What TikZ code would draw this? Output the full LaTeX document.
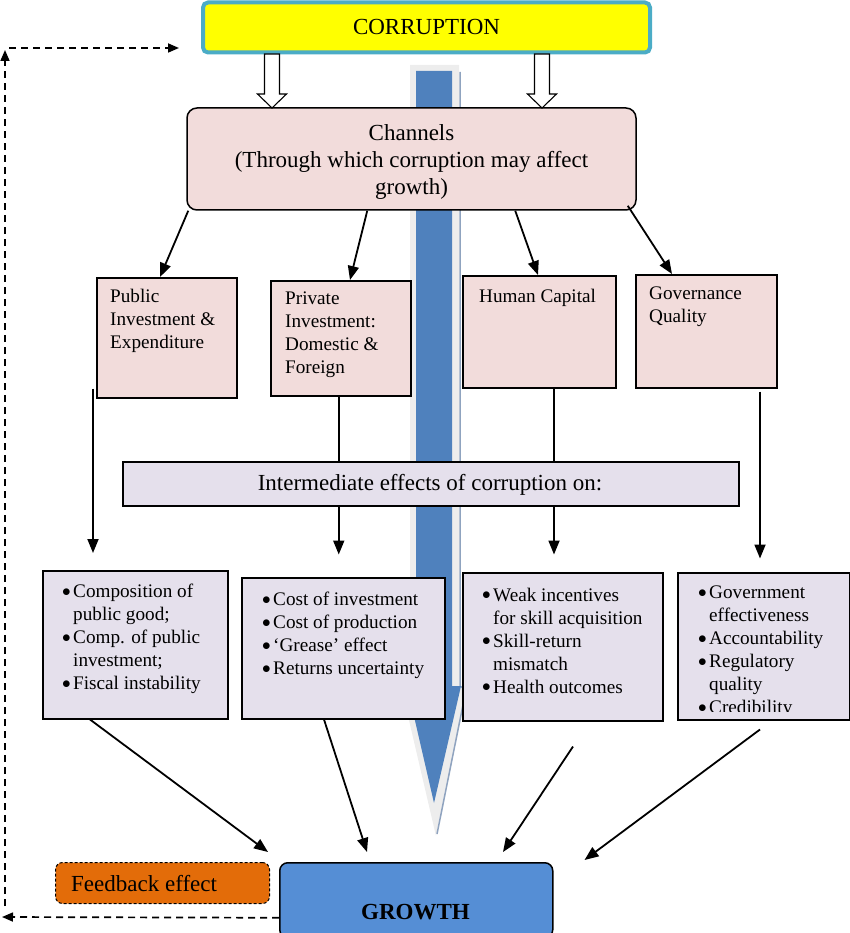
\documentclass[tikz,border=0pt]{standalone}
\usepackage{fontspec}
\setmainfont{Liberation Serif}
\usetikzlibrary{arrows.meta}
\definecolor{pinkf}{HTML}{F2DCDB}
\definecolor{lavf}{HTML}{E5E0EC}
\definecolor{yel}{HTML}{FFFF00}
\definecolor{cyanb}{HTML}{4BACC6}
\definecolor{bluea}{HTML}{4F81BD}
\definecolor{growthb}{HTML}{558ED5}
\definecolor{orangef}{HTML}{E36C09}
\definecolor{shadowg}{HTML}{EDEDED}
\definecolor{shadowl}{HTML}{8FA3BF}
\newcommand\bigfont{\fontsize{23}{27}\selectfont}
\newcommand\smallfont{\fontsize{19.2}{23}\selectfont}
\newcommand\bitem{\makebox[11pt][l]{\raisebox{1.2pt}{\fontsize{17}{17}\selectfont$\bullet$}}}
\newcommand\bcont{\hspace*{11pt}}
\begin{document}
\begin{tikzpicture}[x=1pt,y=-1pt,
  box/.style={draw=black, line width=1.5pt, inner sep=0pt, anchor=north west},
  pinkbox/.style={box, fill=pinkf},
  lavbox/.style={box, fill=lavf},
  txt/.style={inner sep=0pt, anchor=west, align=left, font=\smallfont},
  arr/.style={line width=1.8pt, -{Triangle[length=14pt,width=11pt]}},
  plainline/.style={line width=1.8pt},
  dasharr/.style={line width=1.7pt, dash pattern=on 7pt off 5pt, -{Triangle[length=11pt,width=9pt]}},
  hollow/.style={draw=black, line width=1.1pt, fill=white},
]
\useasboundingbox (0,0) rectangle (850,933);

% big blue arrow with its shadow
\fill[shadowg] (410,65) -- (459,65) -- (459,686) -- (468,686) -- (436,836) -- (401,686) -- (410,686) -- cycle;
\draw[shadowl, line width=1.5pt] (460,72) -- (460,686) -- (466,690) -- (437,834);
\fill[bluea] (416,71) -- (452,71) -- (452,686) -- (461,686) -- (434,803) -- (407,686) -- (416,686) -- cycle;

% top box
\node[draw=cyanb, line width=4pt, fill=yel, rounded corners=5pt, minimum width=447pt, minimum height=50pt, inner sep=0pt, font=\bigfont] (corr) at (426.5,27.5) {CORRUPTION};

% channels
\node[draw=black, line width=1.5pt, fill=pinkf, rounded corners=10pt, minimum width=449pt, minimum height=102pt, inner sep=0pt, align=center, font=\bigfont] (chan) at (411.5,159) {};
\node[inner sep=0pt, align=center, font=\bigfont] (chant) at (411.5,162) {Channels\\(Through which corruption may affect\\growth)};

% hollow arrows
\draw[hollow] (264.5,54) -- (279.5,54) -- (279.5,94) -- (286.5,94) -- (272,108) -- (257.5,94) -- (264.5,94) -- cycle;
\draw[hollow] (534.5,54) -- (549.5,54) -- (549.5,94) -- (556.5,94) -- (542,108) -- (527.5,94) -- (534.5,94) -- cycle;

% level 2 boxes
\node[pinkbox, minimum width=140pt, minimum height=120pt] (pub) at (96,277) {};
\node[pinkbox, minimum width=140pt, minimum height=115pt] (priv) at (270,280) {};
\node[pinkbox, minimum width=153pt, minimum height=112pt] (hum) at (462,275) {};
\node[pinkbox, minimum width=141pt, minimum height=113pt] (gov) at (635,274) {};
\node[txt] (pubt) at (110,321) {Public\\Investment \&\\Expenditure};
\node[txt] (privt) at (285,334.5) {Private\\Investment:\\Domestic \&\\Foreign};
\node[txt] (humt) at (479,297.5) {Human Capital};
\node[txt] (govt) at (649,307) {Governance\\Quality};

% intermediate bar
\node[lavbox, minimum width=616pt, minimum height=44pt, font=\bigfont] (bar) at (122,461) {};
\node[inner sep=0pt, font=\bigfont] (bart) at (430,484.5) {Intermediate effects of corruption on:};

% level 3 boxes
\node[lavbox, minimum width=185pt, minimum height=148pt] (b1) at (42,570) {};
\node[lavbox, minimum width=203pt, minimum height=141pt] (b2) at (241,577) {};
\node[lavbox, minimum width=200pt, minimum height=148pt] (b3) at (462,572) {};
\node[lavbox, minimum width=172pt, minimum height=147pt] (b4) at (677,572) {};
\node[txt] (b1t) at (62,639) {\bitem Composition of\\\bcont public good;\\\bitem Comp. of public\\\bcont investment;\\\bitem Fiscal instability};
\node[txt] (b2t) at (262,635.5) {\bitem Cost of investment\\\bitem Cost of production\\\bitem `Grease' effect\\\bitem Returns uncertainty};
\node[txt] (b3t) at (482,640.5) {\bitem Weak incentives\\\bcont for skill acquisition\\\bitem Skill-return\\\bcont mismatch\\\bitem Health outcomes};
\begin{scope}
\clip (678,573) rectangle (848,711);
\node[txt] (b4t) at (698,652) {\bitem Government\\\bcont effectiveness\\\bitem Accountability\\\bitem Regulatory\\\bcont quality\\\bitem Credibility};
\end{scope}

% growth and feedback
\node[draw=black, line width=1.5pt, fill=growthb, rounded corners=8pt, anchor=north west, minimum width=273pt, minimum height=75pt, inner sep=0pt] (growth) at (279,862) {};
\node[font=\bigfont\bfseries, inner sep=0pt] (gt) at (415.5,912) {GROWTH};
\node[draw=black, line width=1pt, dash pattern=on 3pt off 2pt, fill=orangef, rounded corners=7pt, anchor=north west, minimum width=214pt, minimum height=41pt, inner sep=0pt] (fb) at (55,862) {};
\node[font=\bigfont, inner sep=0pt, anchor=west] (fbt) at (71,884) {Feedback effect};

% channel arrows
\draw[arr] ([xshift=2pt]chan.south west) -- ([xshift=64pt]pub.north west);
\draw[arr] ([xshift=181pt]chan.south west) -- ([xshift=80pt]priv.north west);
\draw[arr] ([xshift=329pt]chan.south west) -- ([xshift=76pt]hum.north west);
\draw[arr] ([xshift=-9pt,yshift=5pt]chan.south east) -- ([xshift=37pt]gov.north west);

% vertical arrows
\draw[arr] ([xshift=-3pt,yshift=10pt]pub.south west) -- ([xshift=51pt,yshift=17pt]b1.north west);
\coordinate (px) at ([xshift=-2pt]priv.south);
\draw[plainline] (px) -- (px |- bar.north);
\draw[arr] (px |- bar.south) -- ++(0,48);
\coordinate (hx) at ([xshift=92pt]hum.south west);
\draw[plainline] (hx) -- (hx |- bar.north);
\draw[arr] (hx |- bar.south) -- ++(0,48);
\coordinate (gx) at ([xshift=125pt,yshift=-3pt]gov.south west);
\draw[arr] (gx) -- ++(0,167);

% arrows to growth
\draw[arr] ([xshift=48pt]b1.south west) -- ([xshift=-11pt,yshift=10pt]growth.north west);
\draw[arr] ([xshift=83pt]b2.south west) -- ([xshift=88pt,yshift=10pt]growth.north west);
\draw[arr] ([xshift=111pt,yshift=-25pt]b3.south west) -- ([xshift=224pt,yshift=10pt]growth.north west);
\draw[arr] ([xshift=83pt,yshift=-9pt]b4.south west) -- ([xshift=31pt,yshift=2pt]growth.north east);

% feedback loop
\coordinate (fbend) at (2,917);
\coordinate (lvbot) at (5,906);
\coordinate (lvtop) at (5,50);
\coordinate (lhs) at (9,48);
\coordinate (lhe) at (179,48);
\draw[dasharr] ([yshift=-17.5pt]growth.west) -- (fbend);
\draw[dasharr] (lvbot) -- (lvtop);
\draw[dasharr] (lhs) -- (lhe);
\end{tikzpicture}
\end{document}
